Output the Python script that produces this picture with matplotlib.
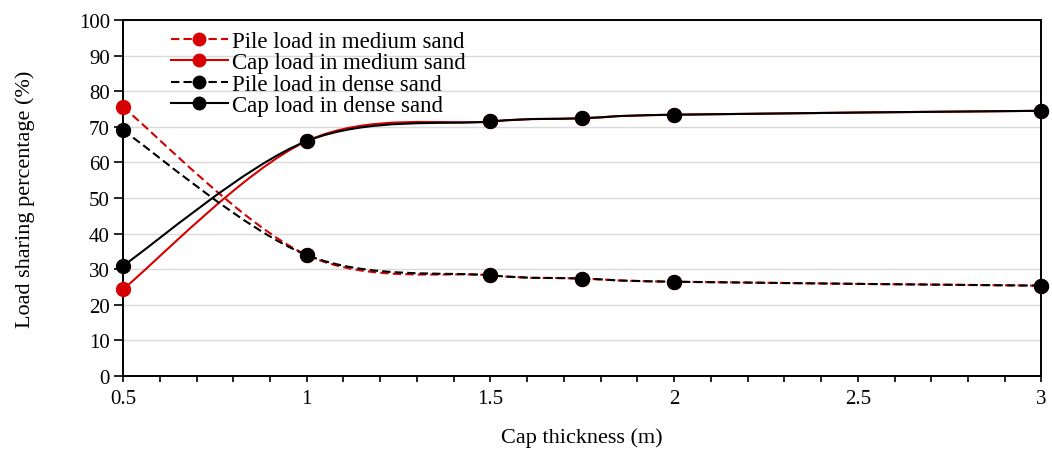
import matplotlib
matplotlib.use("Agg")
import matplotlib.pyplot as plt
from matplotlib.path import Path
from matplotlib.patches import PathPatch
from matplotlib.lines import Line2D
from matplotlib.ticker import MultipleLocator

# Data
cap_thickness = [0.5, 1.0, 1.5, 1.75, 2.0, 3.0]
pile_medium = [75.5, 34.0, 28.3, 27.4, 26.5, 25.4]
cap_medium = [24.4, 66.0, 71.5, 72.4, 73.4, 74.5]
pile_dense = [69.0, 34.0, 28.3, 27.4, 26.5, 25.4]
cap_dense = [31.0, 66.0, 71.5, 72.4, 73.4, 74.5]
xtick_labels = ["0.5", "1", "1.5", "2", "2.5", "3"]

RED = "#d60000"

plt.rcParams["font.family"] = ["Liberation Serif", "DejaVu Serif"]


def smooth_path(xs, ys):
    # Excel-like smoothed line: Catmull-Rom converted to cubic Bezier segments
    pts = list(zip(xs, ys))
    n = len(pts)
    verts = [pts[0]]
    codes = [Path.MOVETO]
    for i in range(n - 1):
        p0 = pts[i - 1] if i > 0 else pts[i]
        p1 = pts[i]
        p2 = pts[i + 1]
        p3 = pts[i + 2] if i + 2 < n else pts[i + 1]
        c1 = (p1[0] + (p2[0] - p0[0]) / 6, p1[1] + (p2[1] - p0[1]) / 6)
        c2 = (p2[0] - (p3[0] - p1[0]) / 6, p2[1] - (p3[1] - p1[1]) / 6)
        verts += [c1, c2, p2]
        codes += [Path.CURVE4] * 3
    return Path(verts, codes)


fig = plt.figure(figsize=(10.52, 4.56), dpi=100)
ax = fig.add_axes([0.117, 0.173, 0.873, 0.781])

dash = (0, (4, 2))
series = [
    (pile_medium, RED, dash, "Pile load in medium sand"),
    (cap_medium, RED, "-", "Cap load in medium sand"),
    (pile_dense, "black", dash, "Pile load in dense sand"),
    (cap_dense, "black", "-", "Cap load in dense sand"),
]

handles = []
for k, (ys, col, ls, lab) in enumerate(series):
    patch = PathPatch(smooth_path(cap_thickness, ys), facecolor="none",
                      edgecolor=col, lw=1.5, linestyle=ls, zorder=3 + k)
    ax.add_patch(patch)
    ax.plot(cap_thickness, ys, "o", color=col, ms=10, zorder=7 + k,
            clip_on=False)
    handles.append(Line2D([], [], color=col, lw=1.5, linestyle=ls,
                          marker="o", ms=9, label=lab))

ax.set_xlim(0.5, 3)
ax.set_ylim(0, 100)
ax.set_xticks([0.5, 1, 1.5, 2, 2.5, 3])
ax.set_xticklabels(xtick_labels)
ax.xaxis.set_minor_locator(MultipleLocator(0.1))
ax.yaxis.set_major_locator(MultipleLocator(10))

ax.tick_params(axis="x", which="both", direction="out", length=4.5,
               width=1.2, labelsize=15, pad=5)
ax.tick_params(axis="y", direction="out", length=6.5, width=1.2,
               labelsize=15, pad=3)

ax.grid(axis="y", color="#d9d9d9", lw=1)
ax.set_axisbelow(True)
for sp in ax.spines.values():
    sp.set_linewidth(1.4)
    sp.set_color("black")

ax.set_xlabel("Cap thickness (m)", fontsize=16)
ax.xaxis.set_label_coords(0.5, -0.145)
ax.set_ylabel("Load sharing percentage (%)", fontsize=16)
ax.yaxis.set_label_coords(-0.096, 0.5)

ax.legend(handles=handles, loc="upper left", bbox_to_anchor=(0.037, 1.008),
          frameon=False, fontsize=16.5, handlelength=2.5, handletextpad=0.15,
          labelspacing=0.02, borderaxespad=0.2)

fig.savefig("out.png", dpi=100)
